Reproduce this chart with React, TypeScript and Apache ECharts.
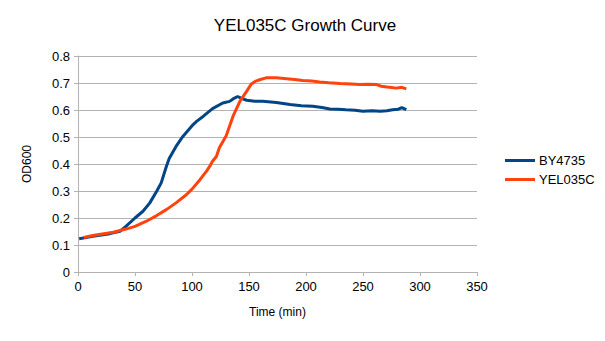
import React, { useEffect, useRef } from "react";
import * as echarts from "echarts";

const byTime = [1, 13, 28, 37, 42, 50, 57, 63, 69, 73, 77.5, 80, 86, 92, 101, 104, 110, 118, 127, 133, 136, 140, 144, 148, 155, 162, 174, 186, 196, 206, 214, 221, 228, 235, 243, 250, 258, 265, 271, 276, 281, 284, 288];
const byOD = [0.123, 0.132, 0.142, 0.151, 0.169, 0.2, 0.225, 0.256, 0.299, 0.33, 0.391, 0.42, 0.465, 0.502, 0.546, 0.558, 0.577, 0.605, 0.626, 0.632, 0.641, 0.65, 0.642, 0.636, 0.632, 0.632, 0.628, 0.62, 0.616, 0.614, 0.609, 0.604, 0.603, 0.601, 0.599, 0.595, 0.597, 0.595, 0.597, 0.601, 0.603, 0.609, 0.601];

const yelTime = [5, 13, 31, 42, 50, 60, 69, 77.5, 86, 95, 100, 107, 112.6, 115.5, 118, 121.4, 124, 130, 136, 142, 148, 152, 156, 160, 165, 174, 183, 190, 197, 205, 212, 220, 230, 240, 247, 255, 262, 266, 271, 275, 279, 284, 288];
const yelOD = [0.128, 0.135, 0.147, 0.159, 0.169, 0.188, 0.209, 0.231, 0.256, 0.286, 0.307, 0.342, 0.373, 0.391, 0.41, 0.428, 0.46, 0.505, 0.577, 0.632, 0.67, 0.696, 0.707, 0.713, 0.719, 0.719, 0.716, 0.713, 0.709, 0.707, 0.704, 0.701, 0.698, 0.696, 0.694, 0.695, 0.694, 0.688, 0.685, 0.683, 0.681, 0.684, 0.678];

const xTicks = [0, 350, 50];
const yTicks = [0, 0.8, 0.1];

export default function App() {
  const ref = useRef<HTMLDivElement>(null);
  useEffect(() => {
    const chart = echarts.init(ref.current!, null, { renderer: "svg" });
    const font = "'Liberation Sans', Arial, sans-serif";
    chart.setOption({
      animation: false,
      backgroundColor: "#ffffff",
      title: {
        text: "YEL035C Growth Curve",
        left: 300,
        textAlign: "center",
        top: 12,
        textStyle: { fontFamily: font, fontSize: 17, fontWeight: "normal", color: "#000" },
      },
      legend: {
        orient: "vertical",
        left: 505,
        top: 154,
        padding: 0,
        itemWidth: 30,
        itemHeight: 3,
        itemGap: 6,
        icon: "rect",
        textStyle: { fontFamily: font, fontSize: 13, color: "#000", padding: [0, 0, 0, -1] },
        data: ["BY4735", "YEL035C"],
      },
      grid: { left: 78, right: 128, top: 56, bottom: 69 },
      xAxis: {
        type: "value",
        min: xTicks[0],
        max: xTicks[1],
        interval: xTicks[2],
        name: "Time (min)",
        nameLocation: "middle",
        nameGap: 34,
        nameTextStyle: { fontFamily: font, fontSize: 12, color: "#000" },
        axisLine: { show: true, lineStyle: { color: "#b3b3b3" } },
        axisTick: { show: true, length: 4, lineStyle: { color: "#b3b3b3" } },
        axisLabel: { fontFamily: font, fontSize: 13, color: "#000", margin: 8 },
        splitLine: { show: false },
      },
      yAxis: {
        type: "value",
        min: yTicks[0],
        max: yTicks[1],
        interval: yTicks[2],
        name: "OD600",
        nameLocation: "middle",
        nameGap: 45,
        nameTextStyle: { fontFamily: font, fontSize: 12, color: "#000" },
        axisLine: { show: true, lineStyle: { color: "#b3b3b3" } },
        axisTick: { show: true, length: 4, lineStyle: { color: "#b3b3b3" } },
        axisLabel: { fontFamily: font, fontSize: 13, color: "#000", margin: 8 },
        splitLine: { show: true, lineStyle: { color: "#b3b3b3", width: 1 } },
      },
      series: [
        {
          name: "BY4735",
          type: "line",
          data: byTime.map((t, i) => [t, byOD[i]]),
          showSymbol: false,
          symbol: "none",
          lineStyle: { color: "#004586", width: 3 },
          itemStyle: { color: "#004586" },
        },
        {
          name: "YEL035C",
          type: "line",
          data: yelTime.map((t, i) => [t, yelOD[i]]),
          showSymbol: false,
          symbol: "none",
          lineStyle: { color: "#ff420e", width: 3 },
          itemStyle: { color: "#ff420e" },
        },
      ],
    });
    return () => chart.dispose();
  }, []);
  return <div ref={ref} style={{ width: 605, height: 341, position: "absolute", left: 0, top: 0 }} />;
}
